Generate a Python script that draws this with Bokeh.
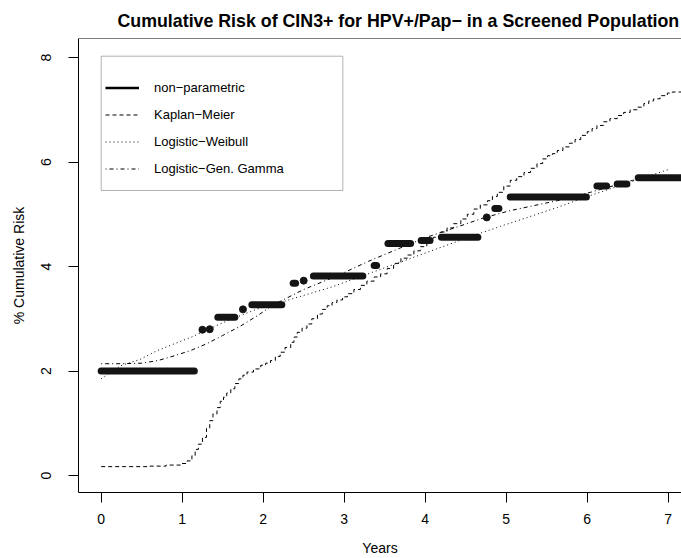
import numpy as np
from bokeh.plotting import figure
from bokeh.models import (Range1d, Legend, LegendItem, BoxAnnotation, Span,
                          FixedTicker)
from bokeh.embed import file_html
from bokeh.resources import INLINE

# ---------------- data ----------------
title_text = "Cumulative Risk of CIN3+ for HPV+/Pap\u2212 in a Screened Population"
x_label = "Years"
y_label = "% Cumulative Risk"
x_ticks = [0, 1, 2, 3, 4, 5, 6, 7]
y_ticks = [0, 2, 4, 6, 8]
legend_labels = ["non\u2212parametric", "Kaplan\u2212Meier",
                 "Logistic\u2212Weibull", "Logistic\u2212Gen. Gamma"]

# non-parametric estimate: plateaus (start, end, level)
np_x0 = [0.00, 1.44, 1.86, 2.37, 2.62, 3.37, 3.54, 3.95, 4.20, 4.86, 5.05, 6.12, 6.37, 6.63]
np_x1 = [1.15, 1.65, 2.23, 2.40, 3.23, 3.40, 3.82, 4.06, 4.65, 4.91, 5.99, 6.24, 6.49, 7.40]
np_y = [2.00, 3.03, 3.27, 3.68, 3.82, 4.02, 4.44, 4.50, 4.56, 5.11, 5.33, 5.54, 5.58, 5.70]
# non-parametric estimate: isolated points
np_dot_x = [1.25, 1.34, 1.75, 2.50, 4.76]
np_dot_y = [2.79, 2.80, 3.18, 3.73, 4.94]

# Kaplan-Meier (step function)
km_x = [0.00, 0.30, 0.60, 0.80, 0.98, 1.06, 1.12, 1.16, 1.20, 1.25, 1.30, 1.34, 1.38,
        1.43, 1.47, 1.51, 1.55, 1.60, 1.65, 1.70, 1.75, 1.80, 1.88, 1.97, 2.03, 2.09,
        2.15, 2.21, 2.27, 2.34, 2.38, 2.42, 2.48, 2.54, 2.60, 2.67, 2.73, 2.79, 2.85,
        2.91, 2.98, 3.04, 3.12, 3.20, 3.28, 3.37, 3.45, 3.53, 3.61, 3.70, 3.78, 3.86,
        3.94, 4.02, 4.10, 4.19, 4.27, 4.35, 4.44, 4.52, 4.60, 4.68, 4.77, 4.83, 4.89,
        4.97, 5.05, 5.13, 5.22, 5.30, 5.38, 5.45, 5.51, 5.57, 5.63, 5.70, 5.78, 5.85,
        5.92, 6.00, 6.06, 6.12, 6.20, 6.28, 6.37, 6.45, 6.53, 6.62, 6.70, 6.76, 6.82,
        6.90, 6.99, 7.05, 7.40]
km_y = [0.17, 0.17, 0.18, 0.20, 0.23, 0.28, 0.38, 0.50, 0.60, 0.73, 0.90, 1.05, 1.18,
        1.30, 1.42, 1.50, 1.58, 1.66, 1.76, 1.85, 1.92, 1.98, 2.04, 2.11, 2.15, 2.20,
        2.28, 2.36, 2.45, 2.55, 2.65, 2.74, 2.82, 2.90, 3.00, 3.09, 3.18, 3.25, 3.31,
        3.36, 3.42, 3.48, 3.56, 3.64, 3.72, 3.80, 3.86, 3.96, 4.06, 4.16, 4.22, 4.30,
        4.38, 4.48, 4.56, 4.66, 4.74, 4.82, 4.91, 5.00, 5.10, 5.18, 5.26, 5.34, 5.42,
        5.54, 5.65, 5.72, 5.80, 5.88, 5.97, 6.06, 6.12, 6.16, 6.22, 6.29, 6.36, 6.43,
        6.51, 6.58, 6.64, 6.70, 6.77, 6.83, 6.89, 6.95, 7.00, 7.05, 7.12, 7.17, 7.21,
        7.27, 7.32, 7.34, 7.34]

# Logistic-Weibull fit
wb_x = [0.00, 0.24, 0.49, 0.69, 0.90, 1.10, 1.30, 1.51, 1.72, 1.93, 2.17, 2.42, 2.83,
        3.24, 3.65, 4.11, 4.52, 4.93, 5.34, 5.63, 6.04, 6.58, 7.01]
wb_y = [1.85, 2.10, 2.23, 2.39, 2.52, 2.64, 2.78, 2.93, 3.06, 3.19, 3.29, 3.41, 3.60,
        3.83, 4.06, 4.32, 4.55, 4.77, 4.98, 5.13, 5.36, 5.64, 5.86]

# Logistic-Generalized Gamma fit
gg_x = [0.00, 0.25, 0.50, 0.70, 0.90, 1.10, 1.30, 1.50, 1.72, 1.93, 2.13, 2.50, 2.91,
        3.30, 3.70, 4.00, 4.40, 4.72, 5.05, 5.63, 6.04, 6.56, 7.00, 7.40]
gg_y = [2.14, 2.14, 2.15, 2.20, 2.29, 2.39, 2.52, 2.68, 2.86, 3.06, 3.27, 3.56, 3.82,
        4.10, 4.36, 4.55, 4.76, 4.93, 5.07, 5.26, 5.42, 5.65, 5.72, 5.75]

# ---------------- figure ----------------
FONT = "Liberation Sans"
INK = "black"

X0, X1 = -0.28, 7.164
Y0, Y1 = -0.325, 8.364
FRAME_LEFT, FRAME_TOP = 78, 38
PX_X = 81.0      # pixels per year
PX_Y = 52.25     # pixels per percent

def sx_to_x(px):
    return X0 + (px - FRAME_LEFT) / PX_X

def sy_to_y(py):
    return Y1 - (py - FRAME_TOP) / PX_Y

p = figure(width=681, height=558, output_backend="svg", toolbar_location=None,
           x_range=Range1d(X0, X1), y_range=Range1d(Y0, Y1),
           min_border_left=78, min_border_right=0, min_border_top=38,
           min_border_bottom=66)
p.grid.visible = False
p.outline_line_color = None
p.background_fill_color = "white"
p.border_fill_color = "white"

p.title.text = title_text
p.title.text_font = FONT
p.title.text_font_size = "17.8px"
p.title.text_font_style = "bold"
p.title.text_color = INK
p.title.align = "left"
p.title.offset = 39
p.title.standoff = 15

for ax in (p.xaxis[0], p.yaxis[0]):
    ax.major_tick_in = 0
    ax.major_tick_out = 10
    ax.minor_tick_line_color = None
    ax.major_tick_line_color = INK
    ax.axis_line_color = INK
    ax.major_label_text_font = FONT
    ax.major_label_text_font_size = "14px"
    ax.major_label_text_color = INK
    ax.axis_label_text_font = FONT
    ax.axis_label_text_font_size = "14px"
    ax.axis_label_text_font_style = "normal"
    ax.axis_label_text_color = INK

p.xaxis[0].ticker = FixedTicker(ticks=x_ticks)
p.yaxis[0].ticker = FixedTicker(ticks=y_ticks)
p.xaxis[0].axis_label = x_label
p.yaxis[0].axis_label = y_label
p.xaxis[0].major_label_standoff = 11
p.xaxis[0].axis_label_standoff = 13
p.yaxis[0].major_label_orientation = "parallel"
p.yaxis[0].major_label_standoff = 17
p.yaxis[0].axis_label_standoff = 12

# top border of the plot box (right side is cut off in the reference)
p.add_layout(Span(location=Y1, dimension="width", line_color=INK, line_width=1))

# curves
r_km = p.step(km_x, km_y, mode="after", line_color=INK, line_width=1, line_dash="4 3")
r_wb = p.line(wb_x, wb_y, line_color=INK, line_width=1, line_dash="1 3")
r_gg = p.line(gg_x, gg_y, line_color=INK, line_width=1, line_dash="1 3 4 3")
# thin legend-sample line, hidden under the first thick plateau
r_np = p.line(x=[np_x0[0], np_x1[0]], y=[np_y[0], np_y[0]], line_color=INK, line_width=2.5)
p.segment(x0=np_x0, y0=np_y, x1=np_x1, y1=np_y, line_color="#141414",
          line_width=7, line_cap="round")
p.scatter(np_dot_x, np_dot_y, size=7, fill_color="#141414", line_color="#141414")

legend = Legend(
    items=[LegendItem(label=legend_labels[0], renderers=[r_np]),
           LegendItem(label=legend_labels[1], renderers=[r_km]),
           LegendItem(label=legend_labels[2], renderers=[r_wb]),
           LegendItem(label=legend_labels[3], renderers=[r_gg])],
    location=(27, 310), padding=4, spacing=0, margin=0,
    glyph_width=34, glyph_height=27, label_height=27, label_standoff=15,
    border_line_color=None, background_fill_alpha=0,
    label_text_font=FONT, label_text_font_size="13px", label_text_color=INK)
p.add_layout(legend)

# legend frame
p.add_layout(BoxAnnotation(left=sx_to_x(100.7), right=sx_to_x(342.3),
                           top=sy_to_y(55.7), bottom=sy_to_y(190),
                           fill_color=None, line_color=INK, line_width=1))

open("out.html", "w").write(file_html(p, INLINE))
